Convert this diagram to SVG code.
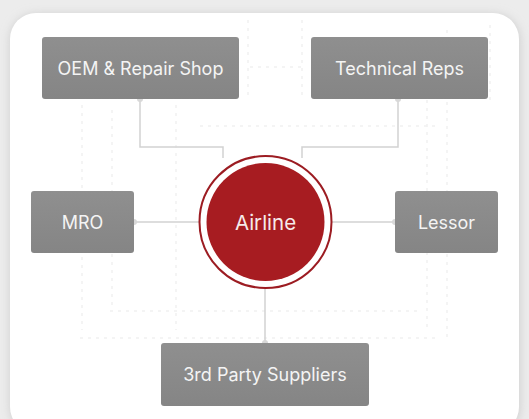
<svg xmlns="http://www.w3.org/2000/svg" width="529" height="419" viewBox="0 0 529 419">
<defs>
<style>
.box{fill:url(#g);}
.lbl{font-family:"Inter","Liberation Sans",sans-serif;font-size:18px;fill:#f4f4f4;text-anchor:middle;dominant-baseline:central;}
.con{fill:none;stroke:#d2d2d2;stroke-width:1.5;}
.dot{fill:#d8d8d8;}
.grid{fill:none;stroke:#f1f1f1;stroke-width:1.5;stroke-dasharray:3 5;}
</style>
<linearGradient id="g" x1="0" y1="0" x2="0" y2="1">
<stop offset="0" stop-color="#8f8f8f"/>
<stop offset="1" stop-color="#858585"/>
</linearGradient>
<filter id="sh" x="-10%" y="-10%" width="120%" height="120%">
<feGaussianBlur stdDeviation="5"/>
</filter>
</defs>
<rect width="529" height="419" fill="#ececec"/>
<rect x="10" y="14" width="510" height="420" rx="26" fill="#cfcfcf" filter="url(#sh)"/>
<rect x="10" y="13" width="509" height="420" rx="26" fill="#ffffff"/>
<g id="grid">
<path class="grid" d="M82 105 V330 M112 110 V310 M176 105 V330 M248 20 V100 M302 20 V100 M447 30 V340 M427 100 V330 M490 25 V100"/>
<path class="grid" d="M200 126 H440 M110 311 H420 M80 338 H440 M250 67 H305"/>
</g>
<g id="connectors">
<path class="con" d="M140 99 V147 H223 V158"/>
<path class="con" d="M398 99 V147 H302 V158"/>
<path class="con" d="M134 222 H199"/>
<path class="con" d="M332 222 H395"/>
<path class="con" d="M265 289 V343"/>
<circle class="dot" cx="140" cy="99" r="3"/>
<circle class="dot" cx="398" cy="99" r="3"/>
<circle class="dot" cx="134" cy="222" r="3"/>
<circle class="dot" cx="395" cy="222" r="3"/>
<circle class="dot" cx="265" cy="343" r="3"/>
</g>
<g id="oem">
<rect class="box" x="42" y="37" width="197" height="62" rx="3"/>
<text class="lbl" x="140.5" y="68">OEM &amp; Repair Shop</text>
</g>
<g id="tech">
<rect class="box" x="311" y="37" width="177" height="62" rx="3"/>
<text class="lbl" x="399.5" y="68">Technical Reps</text>
</g>
<g id="mro">
<rect class="box" x="31" y="191" width="103" height="62" rx="3"/>
<text class="lbl" x="82.5" y="222">MRO</text>
</g>
<g id="lessor">
<rect class="box" x="395" y="191" width="103" height="62" rx="3"/>
<text class="lbl" x="446.5" y="222">Lessor</text>
</g>
<g id="suppliers">
<rect class="box" x="161" y="343" width="208" height="63" rx="3"/>
<text class="lbl" x="265" y="374.5">3rd Party Suppliers</text>
</g>
<g id="airline">
<circle cx="265.5" cy="222" r="66" fill="#ffffff" stroke="#9c1c22" stroke-width="2"/>
<circle cx="265.5" cy="222" r="59" fill="#a71c21"/>
<text x="265.5" y="222" font-family="Inter,'Liberation Sans',sans-serif" font-size="20.5" fill="#f6eaea" text-anchor="middle" dominant-baseline="central">Airline</text>
</g>
</svg>
